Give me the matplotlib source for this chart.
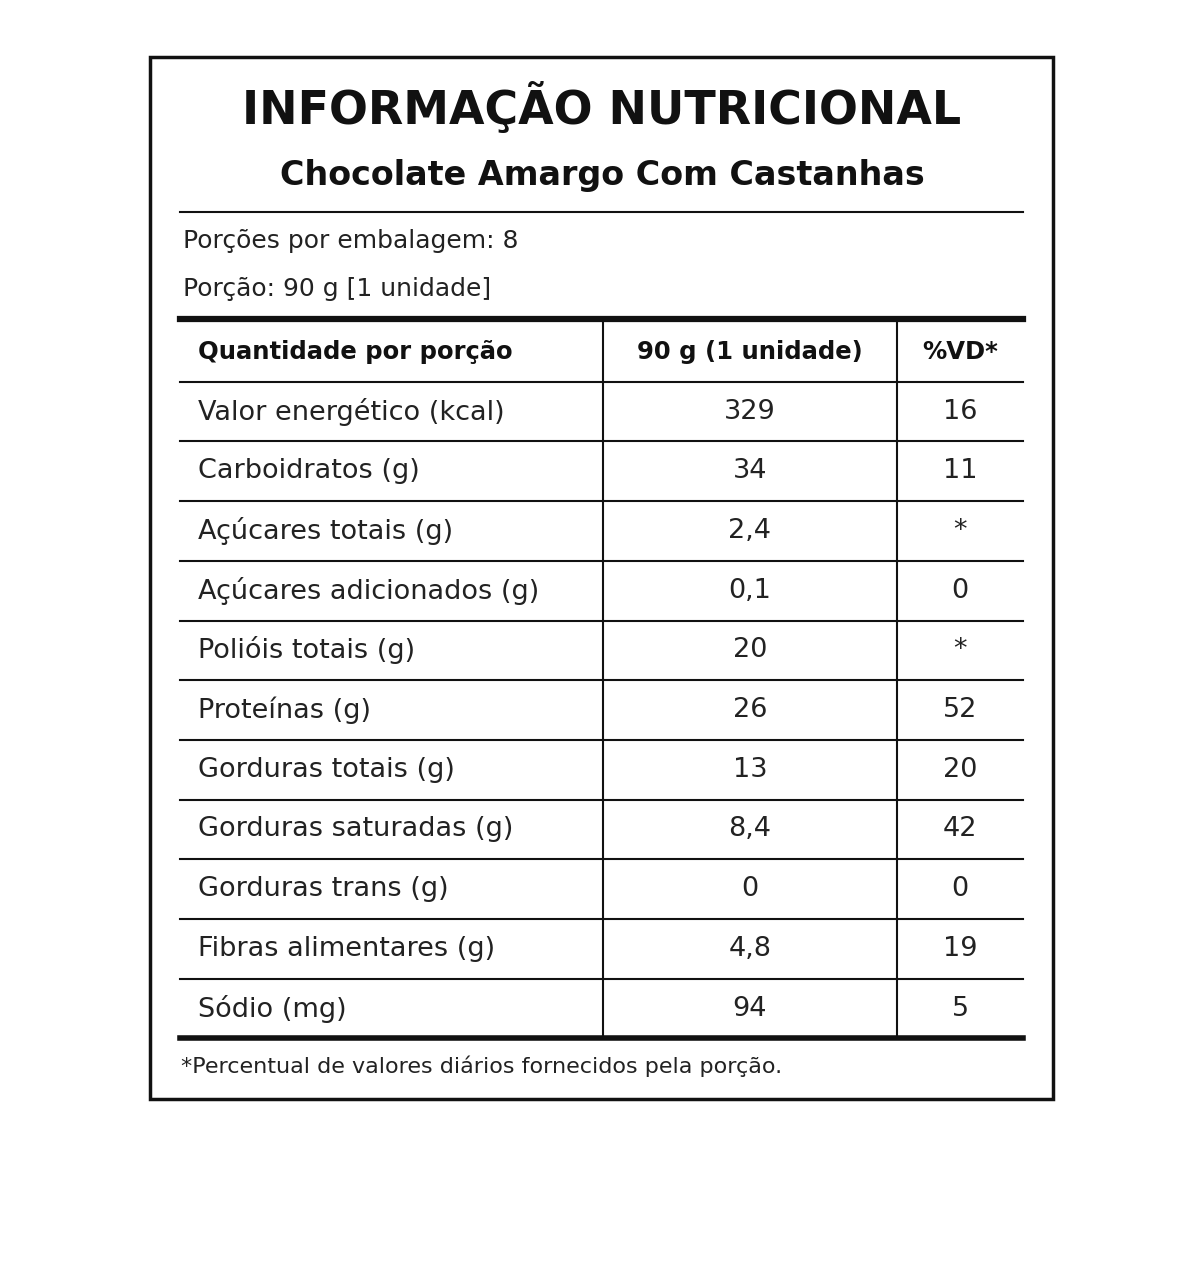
import matplotlib
matplotlib.use("Agg")
import matplotlib.pyplot as plt

title = "INFORMAÇÃO NUTRICIONAL"
subtitle = "Chocolate Amargo Com Castanhas"
info_lines = ["Porções por embalagem: 8", "Porção: 90 g [1 unidade]"]
headers = ["Quantidade por porção", "90 g (1 unidade)", "%VD*"]
nutrients = ["Valor energético (kcal)", "Carboidratos (g)", "Açúcares totais (g)",
             "Açúcares adicionados (g)", "Polióis totais (g)", "Proteínas (g)",
             "Gorduras totais (g)", "Gorduras saturadas (g)", "Gorduras trans (g)",
             "Fibras alimentares (g)", "Sódio (mg)"]
amounts = ["329", "34", "2,4", "0,1", "20", "26", "13", "8,4", "0", "4,8", "94"]
vd = ["16", "11", "*", "0", "*", "52", "20", "42", "0", "19", "5"]
footnote = "*Percentual de valores diários fornecidos pela porção."

plt.rcParams['font.family'] = ['DejaVu Sans']
fig = plt.figure(figsize=(12, 12.64), dpi=100)
ax = fig.add_axes([0, 0, 1, 1])
ax.set_xlim(0, 1200); ax.set_ylim(1264, 0); ax.axis('off')

ax.add_patch(plt.Rectangle((150, 57), 903, 1042, fill=False, lw=2.5, color='#111'))
ax.text(602, 108, title, ha='center', va='center', fontsize=33, fontweight='bold', color='#111')
ax.text(602, 176, subtitle, ha='center', va='center', fontsize=24, fontweight='bold', color='#111')
ax.plot([180, 1023], [212, 212], color='#111', lw=1.5)
for i, t in enumerate(info_lines):
    ax.text(183, 241 + 48 * i, t, ha='left', va='center', fontsize=18, color='#222')
ax.plot([180, 1023], [319, 319], color='#111', lw=4.5)

top, rh = 322, 59.7
ax.text(198, top + rh / 2, headers[0], ha='left', va='center', fontsize=17.5, fontweight='bold', color='#111')
ax.text(750, top + rh / 2, headers[1], ha='center', va='center', fontsize=17.5, fontweight='bold', color='#111')
ax.text(960, top + rh / 2, headers[2], ha='center', va='center', fontsize=17.5, fontweight='bold', color='#111')
n = len(nutrients)
for i in range(n):
    y0 = top + rh * (i + 1)
    ax.plot([180, 1023], [y0, y0], color='#111', lw=1.5)
    yc = y0 + rh / 2
    ax.text(198, yc, nutrients[i], ha='left', va='center', fontsize=19.5, color='#222')
    ax.text(750, yc, amounts[i], ha='center', va='center', fontsize=19.5, color='#222')
    ax.text(960, yc, vd[i], ha='center', va='center', fontsize=19.5, color='#222')
bottom = top + rh * (n + 1)
ax.plot([180, 1023], [bottom, bottom], color='#111', lw=4)
for x in (603, 897):
    ax.plot([x, x], [top, bottom], color='#111', lw=1.5)
ax.text(181, 1066, footnote, ha='left', va='center', fontsize=16, color='#222')

fig.savefig("out.png", dpi=100)
